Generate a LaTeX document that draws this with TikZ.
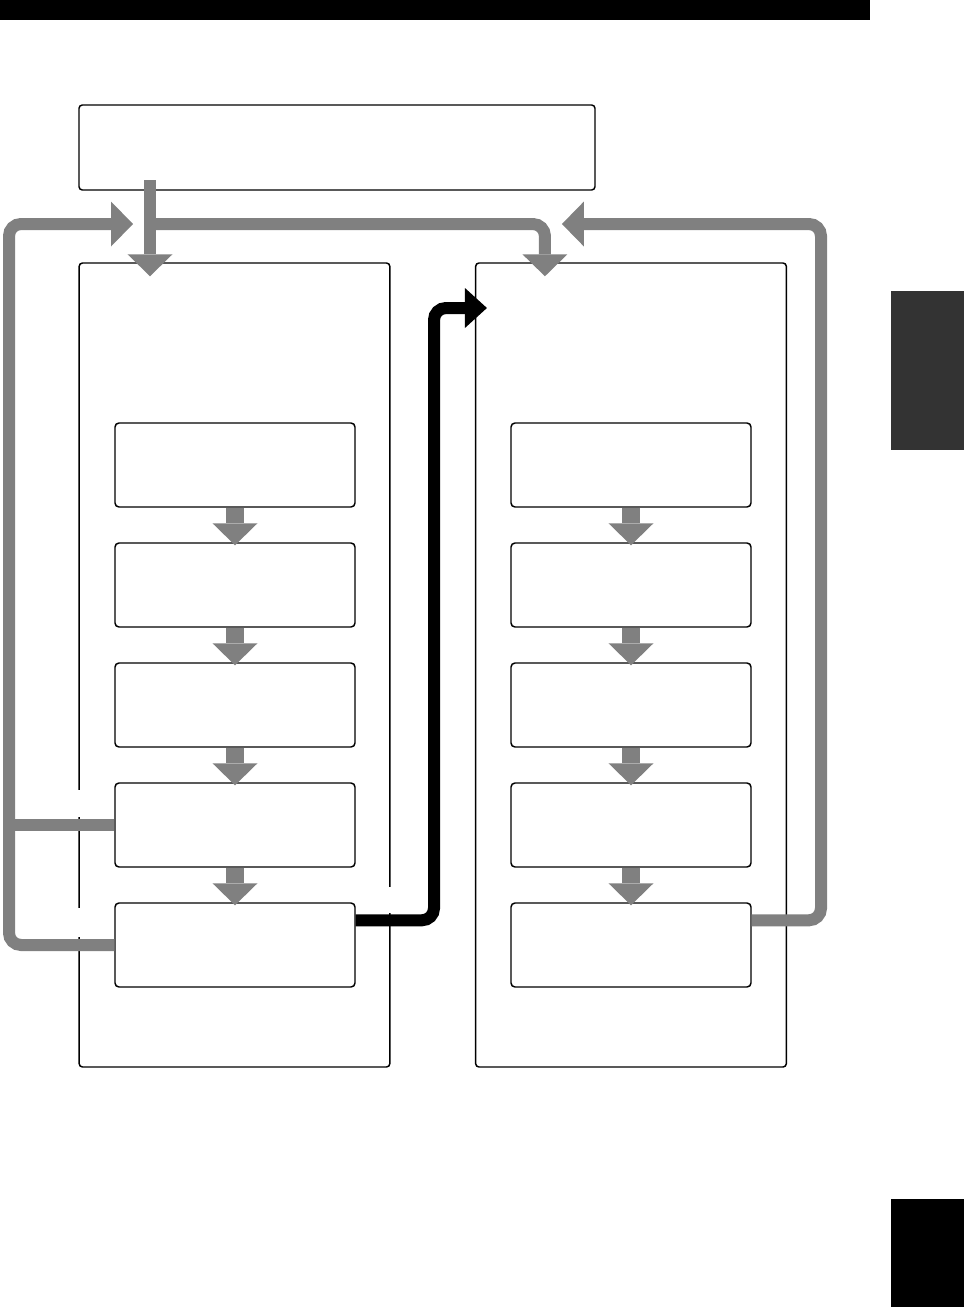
\documentclass[tikz,border=0pt]{standalone}
\usepackage{tikz}
\usetikzlibrary{arrows.meta,positioning,calc}
\definecolor{cflow}{RGB}{128,128,128}
\definecolor{ctab}{RGB}{51,51,51}

\begin{document}
\begin{tikzpicture}[x=0.75pt,y=-0.75pt,
  panel/.style={draw,line width=1.1pt,rounded corners=2.5pt,minimum width=233pt,minimum height=603pt,inner sep=0pt},
  srcbox/.style={panel,minimum width=387pt,minimum height=63.75pt},
  stepbox/.style={draw,fill=white,line width=1.1pt,rounded corners=3pt,minimum width=180pt,minimum height=63pt,inner sep=0pt},
  flow/.style={cflow,line width=9pt,rounded corners=9pt,-{Triangle[width=33.75pt,length=16.5pt,line width=0pt]}},
  stepflow/.style={cflow,line width=13.5pt,-{Triangle[width=33.75pt,length=16.5pt,line width=0pt]}},
  signal/.style={black,line width=9pt,rounded corners=9pt,-{Triangle[width=30pt,length=16.5pt,line width=0pt]}}]
  \useasboundingbox (0,0) rectangle (964,1307);
  % page marks
  \fill (0,0) rectangle (870,20);
  \fill[ctab] (891,291) rectangle (964,450);
  \fill (891,1199) rectangle (964,1307);
  % frames
  \node[srcbox] (src) at (337,147.5) {};
  \node[panel] (lpanel) at (234.5,665) {};
  \node[panel] (rpanel) at (631,665) {};
  \fill[white] (76,790) rectangle (82,817);
  \fill[white] (76,908) rectangle (82,937);
  \fill[white] (387,887) rectangle (393,913);
  \foreach \i in {1,...,5} {
    \node[stepbox] (l\i) at (235,{465+120*(\i-1)}) {};
    \node[stepbox] (r\i) at (631,{465+120*(\i-1)}) {};
  }
  \foreach \i [evaluate=\i as \j using int(\i+1)] in {1,...,4} {
    \draw[stepflow] (l\i.south) -- ($(l\j.north)+(0,3)$);
    \draw[stepflow] (r\i.south) -- ($(r\j.north)+(0,3)$);
  }
  % feed and loops
  \coordinate (feed) at (150,180);
  \coordinate (split) at (150,224);
  \coordinate (rin) at ($(rpanel.north west)+(70,0)$);
  \coordinate (lloop) at (9,224);
  \coordinate (rloop) at (821,224);
  \coordinate (jump) at (434,308);
  \draw[flow] (feed) -- ($(feed |- lpanel.north)+(0,14)$);
  \draw[flow] (split) -| ($(rin)+(0,14)$);
  \draw[flow] (l5.west) -| (lloop) -- ($(split)+(-17,0)$);
  \draw[flow,-] (l4.west) -- (l4.west -| lloop);
  \draw[flow] ($(r5.north east)+(0,18)$) -| (rloop) -- ($(rin |- rloop)+(17,0)$);
  \draw[signal] ($(l5.north east)+(0,18)$) -| (jump) -- ($(jump -| rpanel.west)+(12,0)$);
\end{tikzpicture}
\end{document}
